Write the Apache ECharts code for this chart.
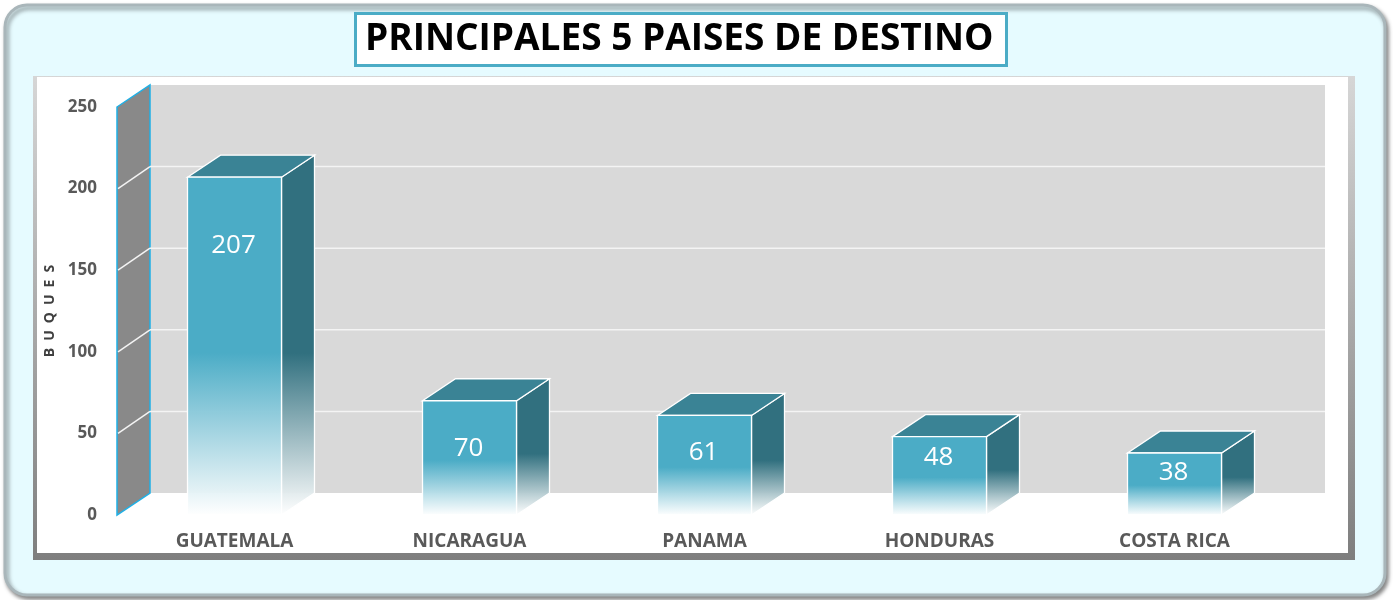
<!DOCTYPE html>
<html>
<head>
<meta charset="utf-8">
<title>Principales 5 paises de destino</title>
<script src="https://cdn.jsdelivr.net/npm/echarts@6/dist/echarts.min.js"></script>
<style>
html, body { margin: 0; padding: 0; background: #fff; }
#chart { width: 1393px; height: 600px; }
</style>
</head>
<body>
<div id="chart"></div>
<script>
const countries = ['GUATEMALA', 'NICARAGUA', 'PANAMA', 'HONDURAS', 'COSTA RICA']
const buques = [207, 70, 61, 48, 38]
const yTicks = [0, 50, 100, 150, 200, 250]

// fake 3d depth, in pixels
const DEPTH_X = 33
const DEPTH_Y = -22
const FONT = '"Open Sans", "DejaVu Sans", sans-serif'

const chart = echarts.init(document.getElementById('chart'))

const renderWalls = (params, api) => {
  const cs = params.coordSys
  const left = cs.x
  const top = cs.y
  const bottom = cs.y + cs.height
  const right = cs.x + cs.width
  const children = [
    {
      type: 'rect',
      shape: { x: left + DEPTH_X, y: top + DEPTH_Y, width: cs.width, height: cs.height },
      style: { fill: '#d9d9d9' }
    },
    {
      type: 'polygon',
      shape: { points: [[left, top], [left + DEPTH_X, top + DEPTH_Y], [left + DEPTH_X, bottom + DEPTH_Y], [left, bottom]] },
      style: { fill: '#898989', stroke: '#1fb0e6', lineWidth: 1.5 }
    }
  ]
  yTicks.slice(1, -1).forEach(v => {
    const y = api.coord([0, v])[1]
    children.push({
      type: 'line',
      shape: { x1: left + DEPTH_X, y1: y + DEPTH_Y, x2: right + DEPTH_X, y2: y + DEPTH_Y },
      style: { stroke: '#f4f4f4', lineWidth: 1.5 }
    })
    children.push({
      type: 'line',
      shape: { x1: left + 1, y1: y, x2: left + DEPTH_X, y2: y + DEPTH_Y },
      style: { stroke: '#f4f4f4', lineWidth: 1.5 }
    })
  })
  return { type: 'group', children }
}

const renderBar = (params, api) => {
  const idx = api.value(0)
  const val = api.value(1)
  const topPt = api.coord([idx, val])
  const basePt = api.coord([idx, 0])
  const bw = api.size([1, 0])[0] * 0.4
  const x0 = topPt[0] - bw / 2
  const x1 = topPt[0] + bw / 2
  const y0 = topPt[1]
  const y1 = basePt[1]
  const h = y1 - y0
  // label sits a bit below the top face, like the excel original
  const labelOffset = Math.max(20, Math.min(68, 0.75 * h - 38))
  const edge = { stroke: '#ffffff', lineWidth: 1.3 }
  return {
    type: 'group',
    children: [
      {
        type: 'polygon',
        shape: { points: [[x1, y0], [x1 + DEPTH_X, y0 + DEPTH_Y], [x1 + DEPTH_X, y1 + DEPTH_Y], [x1, y1]] },
        style: Object.assign({
          fill: new echarts.graphic.LinearGradient(0, 0, 0, 1, [
            { offset: 0, color: '#31707f' },
            { offset: 0.55, color: '#31707f' },
            { offset: 1, color: 'rgba(255,255,255,0.95)' }
          ])
        }, edge)
      },
      {
        type: 'polygon',
        shape: { points: [[x0, y0], [x0 + DEPTH_X, y0 + DEPTH_Y], [x1 + DEPTH_X, y0 + DEPTH_Y], [x1, y0]] },
        style: Object.assign({ fill: '#3a8395' }, edge)
      },
      {
        type: 'rect',
        shape: { x: x0, y: y0, width: bw, height: h },
        style: Object.assign({
          fill: new echarts.graphic.LinearGradient(0, 0, 0, 1, [
            { offset: 0, color: '#4bacc6' },
            { offset: 0.52, color: '#4bacc6' },
            { offset: 1, color: 'rgba(255,255,255,0.95)' }
          ])
        }, edge)
      },
      {
        type: 'text',
        style: {
          x: topPt[0] - 1,
          y: y0 + labelOffset,
          text: String(val),
          fill: '#ffffff',
          fontSize: 26,
          fontFamily: FONT,
          align: 'center',
          verticalAlign: 'middle'
        }
      }
    ]
  }
}

chart.setOption({
  animation: false,
  title: {
    text: 'PRINCIPALES 5 PAISES DE DESTINO',
    left: 355,
    top: 13,
    z: 10,
    padding: [8, 13, 8, 10],
    backgroundColor: '#ffffff',
    borderColor: '#4bacc6',
    borderWidth: 3,
    textStyle: {
      fontSize: 37,
      fontWeight: 'bold',
      color: '#000000',
      fontFamily: FONT
    }
  },
  graphic: [
    {
      type: 'rect',
      z: -10,
      shape: { x: 5, y: 5, width: 1380, height: 590, r: 22 },
      style: {
        fill: '#e6fbff',
        stroke: '#a9b6ba',
        lineWidth: 3,
        shadowColor: 'rgba(0,0,0,0.45)',
        shadowBlur: 4,
        shadowOffsetX: 2,
        shadowOffsetY: 3
      }
    },
    {
      type: 'rect',
      z: -9,
      shape: { x: 33, y: 76, width: 1322, height: 484 },
      style: {
        fill: new echarts.graphic.LinearGradient(0, 0, 0, 1, [
          { offset: 0, color: '#d6d6d6' },
          { offset: 1, color: '#7e7e7e' }
        ])
      }
    },
    {
      type: 'rect',
      z: -8,
      shape: { x: 37, y: 77, width: 1311, height: 476 },
      style: { fill: '#ffffff' }
    }
  ],
  grid: {
    left: 117,
    right: 101,
    top: 107,
    bottom: 85
  },
  xAxis: {
    type: 'category',
    data: countries,
    axisLine: { show: false },
    axisTick: { show: false },
    axisLabel: {
      margin: 17,
      fontSize: 19,
      fontWeight: 'bold',
      color: '#595959',
      fontFamily: FONT
    }
  },
  yAxis: {
    type: 'value',
    min: 0,
    max: 250,
    interval: 50,
    name: 'B\u2002U\u2002Q\u2002U\u2002E\u2002S',
    nameLocation: 'middle',
    nameRotate: 90,
    nameGap: 60,
    nameTextStyle: {
      fontSize: 14,
      fontWeight: 'bold',
      color: '#404040',
      fontFamily: FONT
    },
    splitLine: { show: false },
    axisLine: { show: false },
    axisTick: { show: false },
    axisLabel: {
      margin: 20,
      fontSize: 17,
      fontWeight: 'bold',
      color: '#595959',
      fontFamily: FONT
    }
  },
  series: [
    {
      type: 'custom',
      name: 'walls',
      clip: false,
      silent: true,
      z: 1,
      data: [[0, 0]],
      renderItem: renderWalls
    },
    {
      type: 'custom',
      name: 'BUQUES',
      clip: false,
      z: 3,
      data: buques.map((v, i) => [i, v]),
      encode: { x: 0, y: 1 },
      renderItem: renderBar
    }
  ]
})

window.addEventListener('resize', () => chart.resize())
</script>
</body>
</html>
